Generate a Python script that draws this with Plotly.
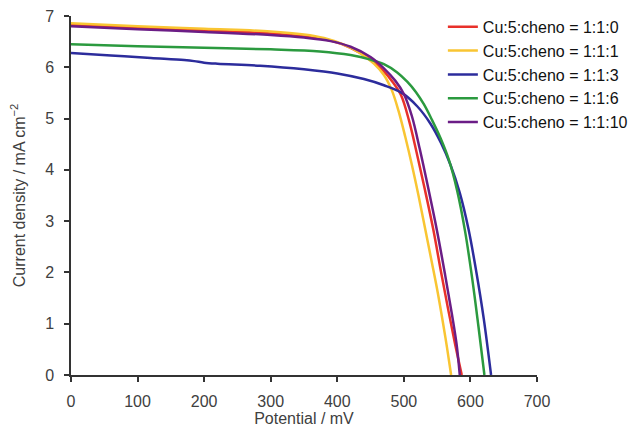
import plotly.graph_objects as go

names = ["Cu:5:cheno = 1:1:0", "Cu:5:cheno = 1:1:1", "Cu:5:cheno = 1:1:3",
         "Cu:5:cheno = 1:1:6", "Cu:5:cheno = 1:1:10"]
colors = ["#e8312a", "#f9c532", "#2c2c9c", "#2b9a3f", "#6b1d86"]

v_red = [0, 100, 200, 300, 350, 390, 420, 450, 470, 484, 496, 508, 519, 531, 544, 556, 567, 577, 587]
j_red = [6.83, 6.77, 6.72, 6.66, 6.60, 6.52, 6.38, 6.15, 5.92, 5.70, 5.45, 4.95, 4.35, 3.65, 2.85, 2.00, 1.25, 0.60, 0.0]

v_yel = [0, 100, 200, 300, 350, 380, 410, 435, 455, 470, 482, 492, 502, 512, 522, 532, 542, 551, 559, 565, 571]
j_yel = [6.86, 6.80, 6.75, 6.70, 6.64, 6.57, 6.44, 6.27, 6.07, 5.85, 5.55, 5.15, 4.65, 4.10, 3.50, 2.85, 2.20, 1.60, 1.00, 0.52, 0.0]

v_blu = [0, 60, 120, 170, 185, 200, 220, 284, 350, 400, 440, 470, 497, 520, 540, 556, 570, 584, 597, 609, 620, 631]
j_blu = [6.28, 6.23, 6.18, 6.14, 6.12, 6.09, 6.07, 6.03, 5.96, 5.88, 5.77, 5.65, 5.50, 5.24, 4.90, 4.52, 4.10, 3.55, 2.85, 2.00, 1.10, 0.0]

v_grn = [0, 100, 200, 300, 374, 420, 450, 470, 490, 505, 518, 530, 542, 555, 568, 580, 592, 603, 612, 621]
j_grn = [6.45, 6.41, 6.38, 6.35, 6.31, 6.24, 6.15, 6.06, 5.90, 5.72, 5.52, 5.28, 4.98, 4.62, 4.18, 3.60, 2.80, 1.85, 0.95, 0.0]

v_pur = [0, 100, 200, 300, 350, 390, 420, 450, 470, 487, 500, 512, 524, 537, 550, 562, 572, 579, 584]
j_pur = [6.80, 6.74, 6.69, 6.63, 6.58, 6.51, 6.40, 6.20, 5.98, 5.74, 5.48, 5.05, 4.40, 3.62, 2.80, 1.95, 1.20, 0.62, 0.0]

xs = [v_red, v_yel, v_blu, v_grn, v_pur]
ys = [j_red, j_yel, j_blu, j_grn, j_pur]

x_ticks = [0, 100, 200, 300, 400, 500, 600, 700]
y_ticks = [0, 1, 2, 3, 4, 5, 6, 7]

FONT = "Liberation Sans, Arial"
fig = go.Figure()
for n, c, x, y in zip(names, colors, xs, ys):
    fig.add_trace(go.Scatter(x=x, y=y, name=n, mode="lines",
                             line=dict(color=c, width=2.5, shape="spline", smoothing=1.0)))

axis_common = dict(showgrid=False, zeroline=False, showline=True, linecolor="#333333",
                   linewidth=1.5, ticks="outside", ticklen=5, tickwidth=1.5, tickcolor="#333333",
                   automargin=False, ticklabeloverflow="allow",
                   tickfont=dict(family=FONT, size=16, color="#404040"),
                   title_font=dict(family=FONT, size=16, color="#404040"))

fig.update_xaxes(range=[0, 700], tickvals=x_ticks, title_text="Potential / mV",
                 ticklabelstandoff=6, title_standoff=5, **axis_common)
fig.update_yaxes(range=[0, 7], tickvals=y_ticks, title_text="Current density / mA cm<sup>−2</sup>",
                 ticklabelstandoff=7, title_standoff=18, **axis_common)

fig.update_layout(
    width=628, height=419,
    margin=dict(l=63, r=99, t=8, b=52, autoexpand=False),
    plot_bgcolor="white", paper_bgcolor="white",
    legend=dict(x=0.798, y=1.017, xanchor="left", yanchor="top",
                font=dict(family=FONT, size=16, color="#111111"),
                bgcolor="rgba(0,0,0,0)", tracegroupgap=0, itemwidth=30),
)

fig.write_html("out.html")
